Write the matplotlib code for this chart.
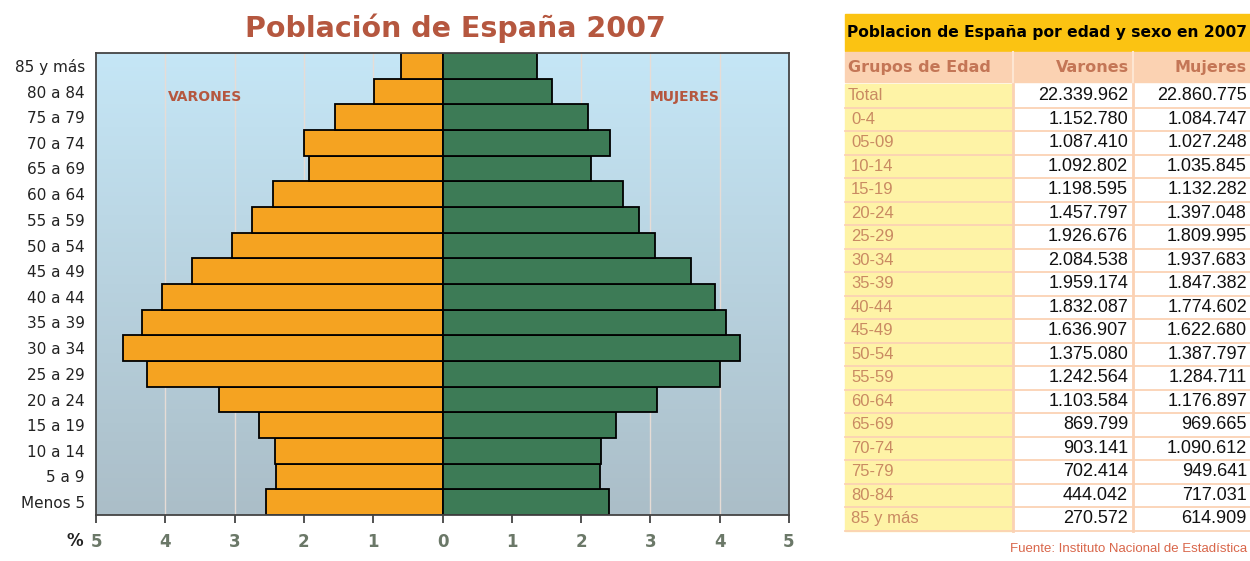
import numpy as np
import matplotlib.pyplot as plt
from matplotlib.colors import LinearSegmentedColormap
from matplotlib.patches import Rectangle

# datos INE 2007 (tabla de la derecha)
grupos_tabla = ['Total', '0-4', '05-09', '10-14', '15-19', '20-24', '25-29', '30-34',
                '35-39', '40-44', '45-49', '50-54', '55-59', '60-64', '65-69',
                '70-74', '75-79', '80-84', '85 y más']
varones = [22339962, 1152780, 1087410, 1092802, 1198595, 1457797, 1926676, 2084538,
           1959174, 1832087, 1636907, 1375080, 1242564, 1103584, 869799,
           903141, 702414, 444042, 270572]
mujeres = [22860775, 1084747, 1027248, 1035845, 1132282, 1397048, 1809995, 1937683,
           1847382, 1774602, 1622680, 1387797, 1284711, 1176897, 969665,
           1090612, 949641, 717031, 614909]

grupos_graf = ['Menos 5', '5 a 9', '10 a 14', '15 a 19', '20 a 24', '25 a 29', '30 a 34',
               '35 a 39', '40 a 44', '45 a 49', '50 a 54', '55 a 59', '60 a 64',
               '65 a 69', '70 a 74', '75 a 79', '80 a 84', '85 y más']
xticks = [-5, -4, -3, -2, -1, 0, 1, 2, 3, 4, 5]

total = varones[0] + mujeres[0]
pct_v = np.array(varones[1:]) / total * 100
pct_m = np.array(mujeres[1:]) / total * 100

W, H = 1250, 561
fig = plt.figure(figsize=(W/100, H/100), dpi=100)
fig.patch.set_facecolor('white')

titcol = '#b5573f'

# ---- piramide ----
ax = fig.add_axes([96/W, 1-515/H, 693/W, 462/H])
n = len(grupos_graf)
ypos = np.arange(n)

grad = LinearSegmentedColormap.from_list('fondo', ['#abbec8', '#c5e6f6'])
ax.imshow(np.linspace(0, 1, 100).reshape(-1, 1), cmap=grad, origin='lower',
          extent=[-5, 5, -0.5, n-0.5], aspect='auto', zorder=0)
for xv in range(-4, 5):
    ax.axvline(xv, color='#e6dcd6', lw=1, zorder=1)

ax.barh(ypos, -pct_v, height=1, color='#f5a321', edgecolor='black', lw=1.3, zorder=2)
ax.barh(ypos, pct_m, height=1, color='#3d7b56', edgecolor='black', lw=1.3, zorder=2)

ax.set_xlim(-5, 5)
ax.set_ylim(-0.5, n-0.5)
ax.set_yticks(ypos)
ax.set_yticklabels(grupos_graf, fontsize=11, color='#222222')
ax.tick_params(axis='y', length=0, pad=8)
ax.set_xticks(xticks)
ax.set_xticklabels([str(abs(v)) for v in xticks], fontsize=12, fontweight='bold', color='#6b7868')
ax.tick_params(axis='x', direction='out', length=6, width=1.2, color='#333333', pad=7)
for s in ax.spines.values():
    s.set_color('#444444')
    s.set_linewidth(1.3)

ax.text(-3.43, n-2.2, 'VARONES', color=titcol, fontsize=10, fontweight='bold', ha='center', va='center')
ax.text(3.5, n-2.2, 'MUJERES', color=titcol, fontsize=10, fontweight='bold', ha='center', va='center')

fig.text(455/W, 1-28/H, 'Población de España 2007', color=titcol, fontsize=20.5,
         fontweight='bold', ha='center', va='center')
fig.text(75/W, 1-541/H, '%', fontsize=12, fontweight='bold', color='#222222', ha='center', va='center')

# ---- tabla ----
tb = fig.add_axes([0, 0, 1, 1])
tb.set_xlim(0, W)
tb.set_ylim(H, 0)
tb.axis('off')
tb.patch.set_alpha(0)

x0, x1, x2, x3 = 845, 1013, 1133, 1250
linea = '#fbd2b4'
tb.add_patch(Rectangle((x0, 14), x3-x0, 37, color='#fbc312'))
tb.text(x0+2, 32, 'Poblacion de España por edad y sexo en 2007', fontsize=11.2,
        fontweight='bold', color='black', va='center', family='DejaVu Sans')
tb.add_patch(Rectangle((x0, 52), x3-x0, 30, color='#fbd2b2'))
hcol = '#c47656'
tb.text(x0+3, 67, 'Grupos de Edad', fontsize=11.5, fontweight='bold', color=hcol, va='center')
tb.text(x2-4, 67, 'Varones', fontsize=11.5, fontweight='bold', color=hcol, va='center', ha='right')
tb.text(x3-3, 67, 'Mujeres', fontsize=11.5, fontweight='bold', color=hcol, va='center', ha='right')
for xl in [x1, x2]:
    tb.plot([xl, xl], [52, 82], color='#fde6d2', lw=1.5)

def fmt(v):
    return f'{v:,}'.replace(',', '.')

rh = 23.5
ytop = 84
tb.add_patch(Rectangle((x0, ytop), x1-x0, rh*len(grupos_tabla), color='#fef3a6'))
for i, (g, v, m) in enumerate(zip(grupos_tabla, varones, mujeres)):
    yc = ytop + rh*i + rh/2
    tb.text(x0+3 + (0 if i == 0 else 3), yc, g, fontsize=12, color='#c98a62',
            va='center', family='Liberation Sans')
    tb.text(x2-5, yc, fmt(v), fontsize=13, color='#111111', va='center', ha='right', family='Liberation Sans')
    tb.text(x3-3, yc, fmt(m), fontsize=13, color='#111111', va='center', ha='right', family='Liberation Sans')
    tb.plot([x0, x3], [ytop + rh*(i+1), ytop + rh*(i+1)], color=linea, lw=1.3)
for xl in [x1, x2]:
    tb.plot([xl, xl], [ytop, ytop + rh*len(grupos_tabla)], color=linea, lw=2)

tb.text(x3-3, 549, 'Fuente: Instituto Nacional de Estadística', fontsize=9.5, color='#d9664a',
        ha='right', va='center', family='Liberation Sans')

plt.savefig('out.png', dpi=100, facecolor='white')
